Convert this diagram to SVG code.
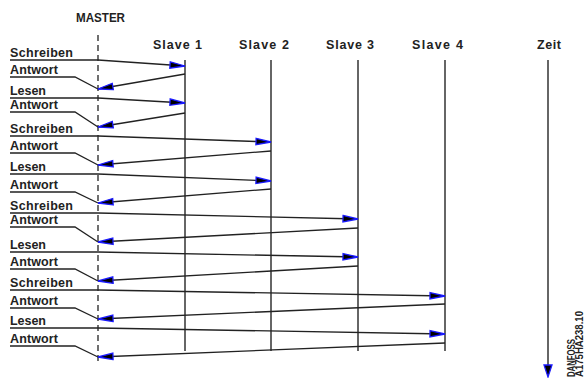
<svg xmlns="http://www.w3.org/2000/svg" width="586" height="378" viewBox="0 0 586 378">
<style>
text{font-family:"Liberation Sans",Arial,sans-serif;font-weight:bold;fill:#222;}
.lbl{font-size:12.5px;}
.hdr{font-size:12.5px;}
.life{stroke:#333;stroke-width:1.5;fill:none;}
.msg{stroke:#222;stroke-width:1.3;fill:none;}
.arr{marker-end:url(#ah);}
.head{fill:#000;stroke:#1a1aff;stroke-width:1.3;stroke-linejoin:miter;}
</style>
<defs>
<marker id="ah" markerUnits="userSpaceOnUse" viewBox="-2 -5 19 10" refX="15" refY="0" markerWidth="19" markerHeight="10" orient="auto" overflow="visible">
<path class="head" d="M0,-3.2 L15,0 L0,3.2 Z"/>
</marker>
</defs>
<rect width="586" height="378" fill="#fff"/>
<g id="master">
<text class="hdr" x="76" y="22" font-size="13" textLength="49" lengthAdjust="spacingAndGlyphs">MASTER</text>
<line x1="98" y1="35" x2="98" y2="361" stroke="#222" stroke-width="1.3" stroke-dasharray="6,4"/>
</g>
<g id="slave1">
<text class="hdr" x="153" y="49" textLength="49" lengthAdjust="spacing">Slave 1</text>
<line class="life" x1="185" y1="60" x2="185" y2="351"/>
</g>
<g id="slave2">
<text class="hdr" x="239" y="49" textLength="50" lengthAdjust="spacing">Slave 2</text>
<line class="life" x1="271" y1="60" x2="271" y2="351"/>
</g>
<g id="slave3">
<text class="hdr" x="326" y="49" textLength="48" lengthAdjust="spacing">Slave 3</text>
<line class="life" x1="358" y1="60" x2="358" y2="351"/>
</g>
<g id="slave4">
<text class="hdr" x="412" y="49" textLength="51" lengthAdjust="spacing">Slave 4</text>
<line class="life" x1="445" y1="60" x2="445" y2="351"/>
</g>
<g id="zeit">
<text class="hdr" x="537" y="49" textLength="24" lengthAdjust="spacing">Zeit</text>
<line class="life" x1="548" y1="60" x2="548" y2="366"/>
<polygon class="head" points="544,365 552,365 548,377"/>
</g>
<g id="labels">
<text class="lbl" x="10" y="57" textLength="63" lengthAdjust="spacing">Schreiben</text>
<text class="lbl" x="10" y="74" textLength="48" lengthAdjust="spacing">Antwort</text>
<text class="lbl" x="10" y="95" textLength="36" lengthAdjust="spacing">Lesen</text>
<text class="lbl" x="10" y="109" textLength="48" lengthAdjust="spacing">Antwort</text>
<text class="lbl" x="10" y="133" textLength="63" lengthAdjust="spacing">Schreiben</text>
<text class="lbl" x="10" y="150" textLength="48" lengthAdjust="spacing">Antwort</text>
<text class="lbl" x="10" y="171" textLength="36" lengthAdjust="spacing">Lesen</text>
<text class="lbl" x="10" y="189" textLength="48" lengthAdjust="spacing">Antwort</text>
<text class="lbl" x="10" y="210" textLength="63" lengthAdjust="spacing">Schreiben</text>
<text class="lbl" x="10" y="224" textLength="48" lengthAdjust="spacing">Antwort</text>
<text class="lbl" x="10" y="249" textLength="36" lengthAdjust="spacing">Lesen</text>
<text class="lbl" x="10" y="266" textLength="48" lengthAdjust="spacing">Antwort</text>
<text class="lbl" x="10" y="287" textLength="63" lengthAdjust="spacing">Schreiben</text>
<text class="lbl" x="10" y="305" textLength="48" lengthAdjust="spacing">Antwort</text>
<text class="lbl" x="10" y="325" textLength="36" lengthAdjust="spacing">Lesen</text>
<text class="lbl" x="10" y="343" textLength="48" lengthAdjust="spacing">Antwort</text>
</g>
<g id="connectors">
<polyline class="msg arr" points="10,60 98,60 185,66"/>
<polyline class="msg" points="10,77 75,77 98,89"/>
<line class="msg arr" x1="185" y1="74" x2="98" y2="89"/>
<polyline class="msg arr" points="10,98 98,98 185,103"/>
<polyline class="msg" points="10,112 75,112 98,127"/>
<line class="msg arr" x1="185" y1="113" x2="98" y2="127"/>
<polyline class="msg arr" points="10,136 98,136 271,142"/>
<polyline class="msg" points="10,153 75,153 98,165"/>
<line class="msg arr" x1="271" y1="151" x2="98" y2="165"/>
<polyline class="msg arr" points="10,174 98,174 271,181"/>
<polyline class="msg" points="10,192 75,192 98,203"/>
<line class="msg arr" x1="271" y1="189" x2="98" y2="203"/>
<polyline class="msg arr" points="10,213 98,213 358,219"/>
<polyline class="msg" points="10,227 75,227 98,242"/>
<line class="msg arr" x1="358" y1="228" x2="98" y2="242"/>
<polyline class="msg arr" points="10,252 98,252 358,257"/>
<polyline class="msg" points="10,269 75,269 98,281"/>
<line class="msg arr" x1="358" y1="266" x2="98" y2="281"/>
<polyline class="msg arr" points="10,290 98,290 445,296"/>
<polyline class="msg" points="10,308 75,308 98,319"/>
<line class="msg arr" x1="445" y1="304" x2="98" y2="319"/>
<polyline class="msg arr" points="10,328 98,328 445,334"/>
<polyline class="msg" points="10,346 75,346 98,357"/>
<line class="msg arr" x1="445" y1="343" x2="98" y2="357"/>
</g>
<g id="code">
<text transform="translate(575,377) rotate(-90)" font-size="10" textLength="38" lengthAdjust="spacingAndGlyphs">DANFOSS</text>
<text transform="translate(583,377) rotate(-90)" font-size="10" textLength="66" lengthAdjust="spacingAndGlyphs">A175HA238.10</text>
</g>
</svg>
